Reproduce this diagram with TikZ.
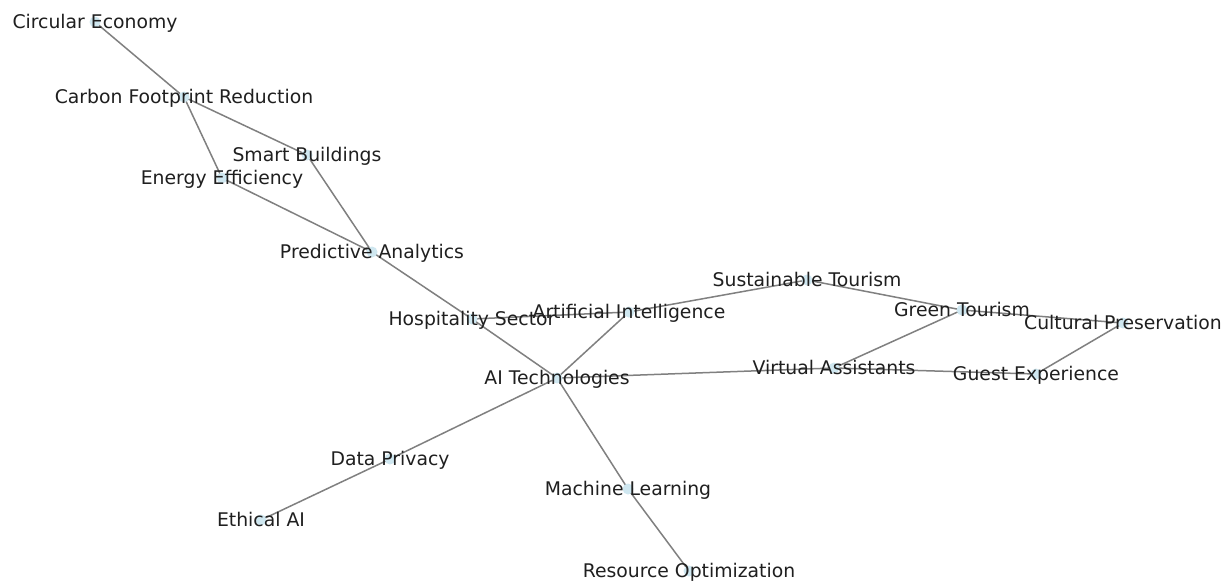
\documentclass[tikz,border=0pt]{standalone}
\usepackage{fontspec}
\setmainfont{DejaVu Sans}
\usetikzlibrary{backgrounds}
\definecolor{nodeblue}{HTML}{CFE7F0}
\definecolor{edgegray}{HTML}{808080}
\begin{document}
\begin{tikzpicture}[x=1pt,y=-1pt,
  lbl/.style={font=\fontsize{18.8}{20}\selectfont, text=black!88, inner sep=0pt,
              text height=0.74em, text depth=0.22em, yshift=-3.5pt},
  vertex/.style={circle, fill=nodeblue, minimum size=11pt, inner sep=0pt,
                 label={[lbl]center:#1}},
  link/.style={draw=edgegray, line width=1.5pt}]
\useasboundingbox (0,0) rectangle (1226,582);

% vertices with their labels
\node[vertex={Circular Economy}]           (ce)  at (95,22)   {};
\node[vertex={Carbon Footprint Reduction}] (cfr) at (184,97)  {};
\node[vertex={Smart Buildings}]            (sb)  at (307,155) {};
\node[vertex={Energy Efficiency}]          (ee)  at (222,178) {};
\node[vertex={Predictive Analytics}]       (pa)  at (372,252) {};
\node[vertex={Hospitality Sector}]         (hs)  at (472,319) {};
\node[vertex={Artificial Intelligence}]    (ai)  at (629,312) {};
\node[vertex={Sustainable Tourism}]        (st)  at (807,280) {};
\node[vertex={Green Tourism}]              (gt)  at (962,310) {};
\node[vertex={Cultural Preservation}]      (cp)  at (1123,323) {};
\node[vertex={Virtual Assistants}]         (va)  at (834,368) {};
\node[vertex={Guest Experience}]           (ge)  at (1036,374) {};
\node[vertex={AI Technologies}]            (ait) at (557,378) {};
\node[vertex={Data Privacy}]               (dp)  at (390,459) {};
\node[vertex={Ethical AI}]                 (eai) at (261,520) {};
\node[vertex={Machine Learning}]           (ml)  at (628,489) {};
\node[vertex={Resource Optimization}]      (ro)  at (689,571) {};

% white page and edges, drawn beneath the vertices and labels
\begin{scope}[on background layer]
\fill[white] (0,0) rectangle (1226,582);
\foreach \a/\b in {ce/cfr, cfr/sb, cfr/ee, sb/pa, ee/pa, pa/hs, hs/ait, hs/ai,
                   ai/ait, ai/st, st/gt, gt/cp, gt/va, va/ait, va/ge, ge/cp,
                   ait/dp, dp/eai, ait/ml, ml/ro}
  \draw[link] (\a.center) -- (\b.center);
\end{scope}
\end{tikzpicture}
\end{document}
